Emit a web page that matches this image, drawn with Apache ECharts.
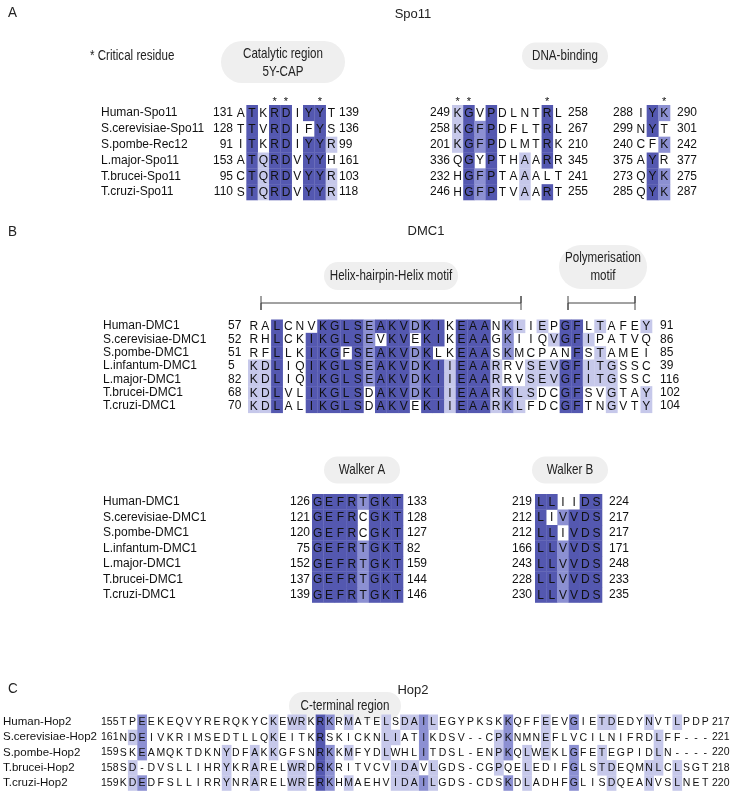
<!DOCTYPE html>
<html><head><meta charset="utf-8">
<script src="https://cdn.jsdelivr.net/npm/echarts@6/dist/echarts.min.js"></script>
<style>html,body{margin:0;padding:0;background:#fff}#c{width:740px;height:793px}</style>
</head><body><div id="c"></div>
<script>
// ---------------- DATA ----------------
const spoNames = ["Human-Spo11","S.cerevisiae-Spo11","S.pombe-Rec12","L.major-Spo11","T.brucei-Spo11","T.cruzi-Spo11"];
const spoCatSeqs = ["ATKRDIYYT","TTVRDIFYS","ITKRDIYYR","ATQRDVYYH","CTQRDVYYR","STQRDVYYR"];
const spoCatStart = [131,128,91,153,95,110];
const spoCatEnd = [139,136,99,161,103,118];
const spoCatCrit = [3,4,7];
const spoDnaSeqs = ["KGVPDLNTRL","KGFPDFLTRL","KGFPDLMTRK","QGYPTHAARR","HGFPTAAALT","HGFPTVAART"];
const spoDnaStart = [249,258,201,336,232,246];
const spoDnaEnd = [258,267,210,345,241,255];
const spoDnaCrit = [0,1,8];
const spoTyrSeqs = ["IYK","NYT","CFK","AYR","QYK","QYK"];
const spoTyrStart = [288,299,240,375,273,285];
const spoTyrEnd = [290,301,242,377,275,287];
const spoTyrCrit = [2];

const dmcNames = ["Human-DMC1","S.cerevisiae-DMC1","S.pombe-DMC1","L.infantum-DMC1","L.major-DMC1","T.brucei-DMC1","T.cruzi-DMC1"];
const hhhSeqs = [
 "RALCNVKGLSEAKVDKIKEAANKLIEPGFLTAFEY",
 "RHLCKIKGLSEVKVEKIKEAAGKIIQVGFIPATVQ",
 "RFLLKIKGFSEAKVDKLKEAASKMCPANFSTAMEI",
 "KDLIQIKGLSEAKVDKIIEAARRVSEVGFITGSSC",
 "KDLIQIKGLSEAKVDKIIEAARRVSEVGFITGSSC",
 "KDLVLIKGLSDAKVDKIIEAARKLSDCGFSVGTAY",
 "KDLALIKGLSDAKVEKIIEAARKLFDCGFTNGVTY"];
const hhhStart = [57,52,51,5,82,68,70];
const hhhEnd = [91,86,85,39,116,102,104];
const walkerASeqs = ["GEFRTGKT","GEFRCGKT","GEFRCGKT","GEFRTGKT","GEFRTGKT","GEFRTGKT","GEFRTGKT"];
const walkerAStart = [126,121,120,75,152,137,139];
const walkerAEnd = [133,128,127,82,159,144,146];
const walkerBSeqs = ["LLIIDS","LIVVDS","LLIVDS","LLVVDS","LLVVDS","LLVVDS","LLVVDS"];
const walkerBStart = [219,212,212,166,243,228,230];
const walkerBEnd = [224,217,217,171,248,233,235];

const hopNames = ["Human-Hop2","S.cerevisiae-Hop2","S.pombe-Hop2","T.brucei-Hop2","T.cruzi-Hop2"];
const hopSeqs = [
 "TPEEKEQVYRERQKYCKEWRKRKRMATELSDAILEGYPKSKKQFFEEVGIETDEDYNVTLPDP",
 "NDEIVKRIMSEDTLLQKEITKRSKICKNLIATIKDSV--CPKNMNEFLVCILNIFRDLFF---",
 "SKEAMQKTDKNYDFAKKGFSNRKKMFYDLWHLITDSL-ENPKQLWEKLGFETEGPIDLN----",
 "SD-DVSLLIHRYKRARELWRDRKRITVCVIDAVLGDS-CGPQELEDIFGLSTDEQMNLCLSGT",
 "KDEDFSLLIRRYNRARELWRERKHMAEHVIDAILGDS-CDSKDLADHFGLISDQEANVSLNET"];
const hopStart = [155,161,159,158,159];
const hopEnd = [217,221,220,218,220];

// ---------------- STYLE ----------------
const FONT = "'Liberation Sans', Arial, sans-serif";
const SHADE = ['rgba(0,0,0,0)', '#c6c8ea', '#8c90d2', '#5458b0'];
const PILL = '#efefef';

// percent-identity conservation level of each residue (consensus only)
function pidLevels(seqs) {
  const n = seqs.length, L = seqs[0].length;
  const out = seqs.map(() => new Array(L).fill(0));
  for (let c = 0; c < L; c++) {
    const cnt = {};
    seqs.forEach(s => { const ch = s[c]; if (ch !== '-') cnt[ch] = (cnt[ch] || 0) + 1; });
    let best = null, bc = 0, tie = false;
    for (const k in cnt) {
      if (cnt[k] > bc) { bc = cnt[k]; best = k; tie = false; }
      else if (cnt[k] === bc) tie = true;
    }
    if (!best || tie) continue;
    const pid = bc / n * 100;
    const lv = pid > 80 ? 3 : pid > 60 ? 2 : pid > 40 ? 1 : 0;
    seqs.forEach((s, r) => { if (s[c] === best) out[r][c] = lv; });
  }
  return out;
}

const blocks = [
  {seqs: spoCatSeqs, start: spoCatStart, end: spoCatEnd, names: spoNames, crit: spoCatCrit,
   left: 235, top: 105, width: 102, height: 95, font: 12, startM: 2, endM: 2, nameX: 101},
  {seqs: spoDnaSeqs, start: spoDnaStart, end: spoDnaEnd, crit: spoDnaCrit,
   left: 452, top: 105, width: 112, height: 95, font: 12, startM: 2, endM: 4},
  {seqs: spoTyrSeqs, start: spoTyrStart, end: spoTyrEnd, crit: spoTyrCrit,
   left: 635, top: 105, width: 35, height: 95, font: 12, startM: 2, endM: 7},
  {seqs: hhhSeqs, start: hhhStart, end: hhhEnd, names: dmcNames,
   left: 248, top: 319.5, width: 404, height: 93.3, font: 12, startM: 20, startAlign: 'left', endM: 8, nameX: 103},
  {seqs: walkerASeqs, start: walkerAStart, end: walkerAEnd, names: dmcNames,
   left: 312, top: 494, width: 91, height: 108.5, font: 12, startM: 2, endM: 4, nameX: 103},
  {seqs: walkerBSeqs, start: walkerBStart, end: walkerBEnd,
   left: 535, top: 494, width: 67, height: 108.5, font: 12, startM: 3, endM: 7},
  {seqs: hopSeqs, start: hopStart, end: hopEnd, names: hopNames,
   left: 118.5, top: 714.5, width: 591.5, height: 76, font: 10.5, nameFont: 11.5, startM: 17.5, startAlign: 'left', endM: 2, nameX: 3}
];

const option = {animation: false, grid: [], xAxis: [], yAxis: [], series: [], graphic: []};

function yAx(gi, n, pos, margin, align, fmt, fs) {
  return {gridIndex: gi, type: 'category', inverse: true, position: pos,
    data: Array.from({length: n}, (_, i) => String(i)),
    axisLine: {show: false}, axisTick: {show: false}, splitLine: {show: false},
    axisLabel: {interval: 0, margin: margin, align: align, formatter: fmt,
      fontSize: fs, fontFamily: FONT, color: '#111'}};
}

blocks.forEach((b, gi) => {
  const n = b.seqs.length, L = b.seqs[0].length;
  option.grid.push({left: b.left, top: b.top, width: b.width, height: b.height});
  option.xAxis.push({gridIndex: gi, type: 'category', show: false,
    data: Array.from({length: L}, (_, i) => String(i))});
  const yi = option.yAxis.length;
  option.yAxis.push(yAx(gi, n, 'left', b.startM, b.startAlign || 'right', (v, i) => String(b.start[i]), b.font));
  option.yAxis.push(yAx(gi, n, 'right', b.endM, 'left', (v, i) => String(b.end[i]), b.font));
  if (b.names) option.yAxis.push(yAx(gi, n, 'left', b.left - b.nameX, 'left', (v, i) => b.names[i], b.nameFont || 12));
  const lv = pidLevels(b.seqs);
  const data = [];
  b.seqs.forEach((s, r) => { for (let c = 0; c < L; c++) data.push([c, r, lv[r][c]]); });
  option.series.push({
    type: 'custom', xAxisIndex: gi, yAxisIndex: yi, data: data,
    encode: {x: 0, y: 1},
    renderItem: function (params, api) {
      const c = api.value(0), r = api.value(1), level = api.value(2);
      const p = api.coord([c, r]);
      const sz = api.size([1, 1]);
      const ch = b.seqs[r][c];
      const children = [];
      if (level > 0) children.push({type: 'rect',
        shape: {x: p[0] - sz[0] / 2, y: p[1] - sz[1] / 2, width: sz[0] + 0.3, height: sz[1] + 0.3},
        style: {fill: SHADE[level]}});
      children.push({type: 'text', style: {text: ch, x: p[0], y: p[1] + 0.5, align: 'center',
        verticalAlign: 'middle', font: b.font + 'px ' + FONT, fill: '#111'}});
      if (r === 0 && b.crit && b.crit.indexOf(c) >= 0) {
        children.push({type: 'text', style: {text: '*', x: p[0], y: p[1] - sz[1] * 0.72,
          align: 'center', verticalAlign: 'middle', font: '11px ' + FONT, fill: '#111'}});
      }
      return {type: 'group', children: children};
    }
  });
});

// ---------------- ANNOTATIONS ----------------
function txt(x, y, t, fs, align, sx) {
  return {type: 'text', x: x, y: y, scaleX: sx || 1,
    style: {text: t, font: fs + 'px ' + FONT, fill: '#222', align: align || 'center', verticalAlign: 'middle'}};
}
function ntxt(x, y, t, align) { return txt(x, y, t, 14.5, align, 0.8); }
function pill(cx, cy, w, h) {
  return {type: 'rect', shape: {x: cx - w / 2, y: cy - h / 2, width: w, height: h, r: h / 2},
    style: {fill: PILL}};
}
function bracket(x1, x2, y) {
  return {type: 'polyline', shape: {points: [[x1, y - 7], [x1, y + 7], [x1, y], [x2, y], [x2, y - 7], [x2, y + 7]]},
    style: {stroke: '#444', lineWidth: 1, fill: null}};
}
option.graphic = [
  txt(8, 13, 'A', 15, 'left', 0.9), txt(413, 14, 'Spo11', 13),
  ntxt(90, 56, '* Critical residue', 'left'),
  pill(283, 62, 124, 42), ntxt(283, 54, 'Catalytic region'), ntxt(283, 72, '5Y-CAP'),
  pill(565, 56, 86, 27), ntxt(565, 56, 'DNA-binding'),

  txt(8, 232, 'B', 15, 'left', 0.9), txt(426, 231, 'DMC1', 13),
  pill(391, 276, 134, 28), ntxt(391, 276, 'Helix-hairpin-Helix motif'),
  pill(603, 267, 88, 44), ntxt(603, 258, 'Polymerisation'), ntxt(603, 276, 'motif'),
  bracket(261, 521, 303), bracket(568, 635, 303),
  pill(362, 470, 76, 27), ntxt(362, 470, 'Walker A'),
  pill(570, 470, 76, 27), ntxt(570, 470, 'Walker B'),

  txt(8, 689, 'C', 15, 'left', 0.9), txt(413, 690, 'Hop2', 13),
  pill(345, 706, 112, 28), ntxt(345, 706, 'C-terminal region')
];

const chart = echarts.init(document.getElementById('c'), null, {renderer: 'canvas'});
chart.setOption(option);
</script>
</body></html>
